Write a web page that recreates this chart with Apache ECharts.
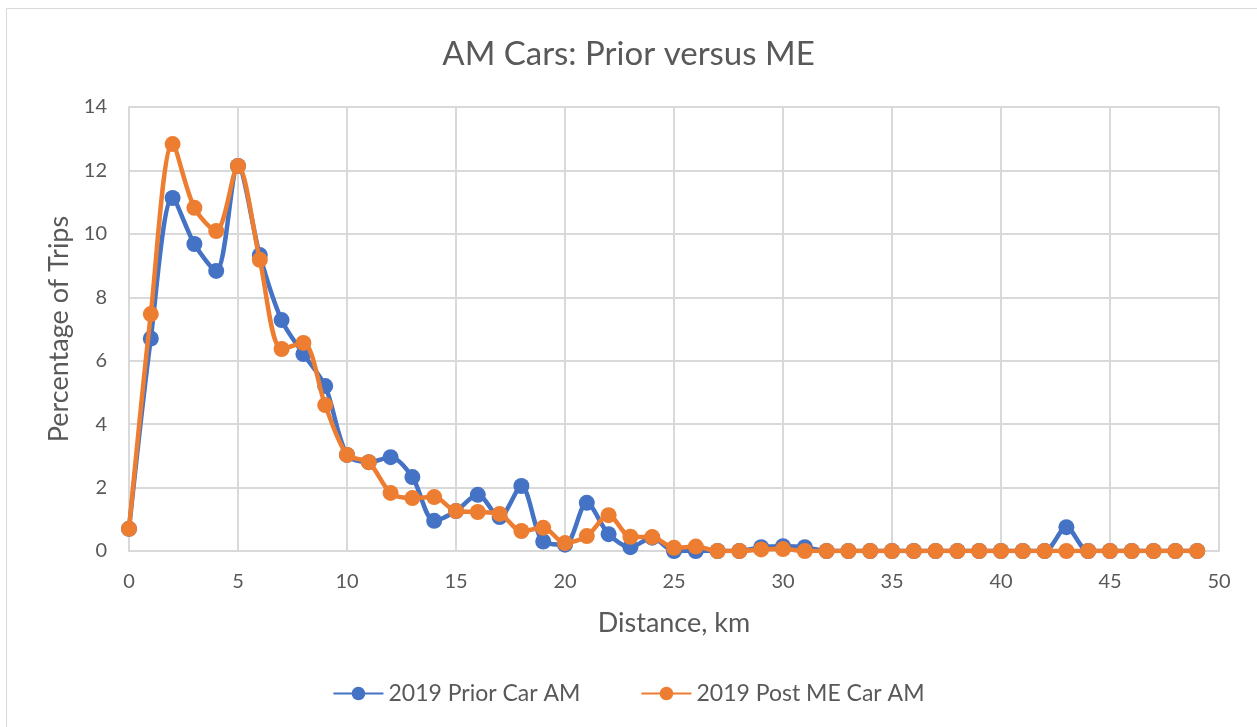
<!DOCTYPE html>
<html>
<head>
<meta charset="utf-8">
<script src="https://cdn.jsdelivr.net/npm/echarts@6/dist/echarts.min.js"></script>
<style>
  html, body { margin: 0; padding: 0; background: #fff; }
  #myChart { width: 1257px; height: 727px; }
</style>
</head>
<body>
<div id="myChart"></div>
<script>
// distance, km (0..49)
var distances = [];
for (var d = 0; d < 50; d++) distances.push(d);

var priorCar = [
  0.7, 6.7, 11.13, 9.68, 8.83, 12.14, 9.33, 7.28, 6.21, 5.2,
  3.03, 2.8, 2.96, 2.33, 0.95, 1.26, 1.77, 1.07, 2.05, 0.3,
  0.2, 1.52, 0.53, 0.12, 0.42, 0.0, 0.0, 0.0, 0.0, 0.12,
  0.15, 0.12, 0.0, 0.0, 0.0, 0.0, 0.0, 0.0, 0.0, 0.0,
  0.0, 0.0, 0.0, 0.75, 0.0, 0.0, 0.0, 0.0, 0.0, 0.0
];

var postMECar = [
  0.7, 7.47, 12.83, 10.82, 10.09, 12.14, 9.18, 6.37, 6.56, 4.6,
  3.03, 2.8, 1.83, 1.67, 1.7, 1.26, 1.23, 1.17, 0.63, 0.73,
  0.25, 0.47, 1.13, 0.45, 0.44, 0.1, 0.14, 0.0, 0.0, 0.05,
  0.06, 0.0, 0.0, 0.0, 0.0, 0.0, 0.0, 0.0, 0.0, 0.0,
  0.0, 0.0, 0.0, 0.0, 0.0, 0.0, 0.0, 0.0, 0.0, 0.0
];

var seriesNames = ["2019 Prior Car AM", "2019 Post ME Car AM"];
var seriesColors = ["#4472c4", "#ed7d31"];

function pairs(vals) {
  return vals.map(function(v, i) { return [distances[i], v]; });
}

var txt = "#595959";
var font = "Lato, 'Open Sans', sans-serif";

var option = {
  animation: false,
  backgroundColor: "#fff",
  textStyle: { fontFamily: font },
  title: {
    text: "AM Cars: Prior versus ME",
    left: "center",
    top: 33,
    textStyle: { color: txt, fontSize: 33, fontWeight: "normal", fontFamily: font }
  },
  graphic: [{
    type: "rect",
    shape: { x: 6.5, y: 8.5, width: 1300, height: 800 },
    style: { fill: "none", stroke: "#d9d9d9", lineWidth: 1 },
    silent: true
  }],
  legend: {
    bottom: 17,
    left: "center",
    itemWidth: 50,
    itemHeight: 17,
    itemGap: 60,
    data: seriesNames,
    textStyle: { color: txt, fontSize: 23, fontFamily: font }
  },
  grid: { left: 129, right: 38, top: 107, bottom: 176 },
  xAxis: {
    type: "value",
    min: 0,
    max: 50,
    interval: 5,
    name: "Distance, km",
    nameLocation: "middle",
    nameGap: 59,
    nameTextStyle: { color: txt, fontSize: 27, fontFamily: font },
    axisLine: { show: true, lineStyle: { color: "#d9d9d9", width: 2 } },
    axisTick: { show: false },
    axisLabel: { color: txt, fontSize: 20, margin: 21, fontFamily: font },
    splitLine: { show: true, lineStyle: { color: "#d9d9d9", width: 2 } }
  },
  yAxis: {
    type: "value",
    min: 0,
    max: 14,
    interval: 2,
    name: "Percentage of Trips",
    nameLocation: "middle",
    nameGap: 52,
    nameTextStyle: { color: txt, fontSize: 27, fontFamily: font },
    axisLine: { show: true, lineStyle: { color: "#d9d9d9", width: 2 } },
    axisTick: { show: false },
    axisLabel: { color: txt, fontSize: 20, margin: 22, fontFamily: font },
    splitLine: { show: true, lineStyle: { color: "#d9d9d9", width: 2 } }
  },
  series: [
    {
      name: seriesNames[0],
      type: "line",
      smooth: 0.3,
      data: pairs(priorCar),
      symbol: "circle",
      symbolSize: 16,
      color: seriesColors[0],
      lineStyle: { width: 4.5, color: seriesColors[0] },
      itemStyle: { color: seriesColors[0] },
      z: 2
    },
    {
      name: seriesNames[1],
      type: "line",
      smooth: 0.3,
      data: pairs(postMECar),
      symbol: "circle",
      symbolSize: 16,
      color: seriesColors[1],
      lineStyle: { width: 4.5, color: seriesColors[1] },
      itemStyle: { color: seriesColors[1] },
      z: 3
    }
  ]
};

var myChart = echarts.init(document.getElementById("myChart"));
myChart.setOption(option);
</script>
</body>
</html>
